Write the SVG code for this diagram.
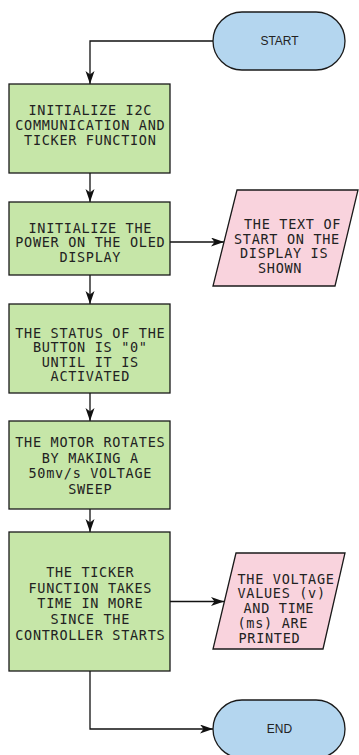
<svg xmlns="http://www.w3.org/2000/svg" width="359" height="755" viewBox="0 0 359 755">
<style>
.proc{fill:#c6e6a8;stroke:#1a1a1a;stroke-width:1.3}
.io{fill:#f9d3dd;stroke:#1a1a1a;stroke-width:1.3}
.term{fill:#b4d6ef;stroke:#1a1a1a;stroke-width:1.3}
.t{font-family:"DejaVu Sans Mono",monospace;font-size:13.5px;letter-spacing:0.7px;fill:#222}
.c{text-anchor:middle}
.s{font-family:"Liberation Sans",Arial,sans-serif;font-size:12px;fill:#222;text-anchor:middle}
.edge{fill:none;stroke:#111;stroke-width:1.3;marker-end:url(#arr)}
</style>
<defs>
<marker id="arr" markerUnits="userSpaceOnUse" markerWidth="14" markerHeight="10" refX="13" refY="4.5" orient="auto">
<path d="M0,0 L13,4.5 L0,9 L3.5,4.5 Z" fill="#111"/>
</marker>
</defs>
<rect width="359" height="755" fill="#ffffff"/>
<g id="connectors">
<path class="edge" d="M213,41 H90 V84"/>
<path class="edge" d="M90,173 V202"/>
<path class="edge" d="M170,242 H224"/>
<path class="edge" d="M90,275 V304"/>
<path class="edge" d="M90,393 V421"/>
<path class="edge" d="M90,509 V532"/>
<path class="edge" d="M170,601.5 H224"/>
<path class="edge" d="M90,671 V729 H213"/>
</g>
<g id="start">
<rect class="term" x="213" y="12" width="132" height="58" rx="29" ry="29"/>
<text class="s" x="279.5" y="45">START</text>
</g>
<g id="box1">
<rect class="proc" x="9" y="84" width="161" height="89"/>
<text class="t c" x="90.3" y="115">INITIALIZE I2C</text>
<text class="t c" x="90.3" y="130">COMMUNICATION AND</text>
<text class="t c" x="90.3" y="145">TICKER FUNCTION</text>
</g>
<g id="box2">
<rect class="proc" x="9" y="202" width="161" height="73"/>
<text class="t c" x="90.3" y="232.5">INITIALIZE THE</text>
<text class="t c" x="90.3" y="247">POWER ON THE OLED</text>
<text class="t c" x="90.3" y="261.5">DISPLAY</text>
</g>
<g id="io1">
<polygon class="io" points="237,190 358,190 335,286 213,286"/>
<text class="t" x="244" y="229">THE TEXT OF</text>
<text class="t" x="234" y="243.5">START ON THE</text>
<text class="t" x="240" y="258">DISPLAY IS</text>
<text class="t" x="258" y="273">SHOWN</text>
</g>
<g id="box3">
<rect class="proc" x="9" y="304" width="161" height="89"/>
<text class="t c" x="90.3" y="337.5">THE STATUS OF THE</text>
<text class="t c" x="90.3" y="352">BUTTON IS "0"</text>
<text class="t c" x="90.3" y="366.5">UNTIL IT IS</text>
<text class="t c" x="90.3" y="381">ACTIVATED</text>
</g>
<g id="box4">
<rect class="proc" x="9" y="421" width="161" height="88"/>
<text class="t c" x="90.3" y="447">THE MOTOR ROTATES</text>
<text class="t c" x="90.3" y="462.5">BY MAKING A</text>
<text class="t c" x="90.3" y="478">50mv/s VOLTAGE</text>
<text class="t c" x="90.3" y="494">SWEEP</text>
</g>
<g id="box5">
<rect class="proc" x="9" y="532" width="161" height="139"/>
<text class="t c" x="90.3" y="577">THE TICKER</text>
<text class="t c" x="90.3" y="592.5">FUNCTION TAKES</text>
<text class="t c" x="90.3" y="608">TIME IN MORE</text>
<text class="t c" x="90.3" y="624">SINCE THE</text>
<text class="t c" x="90.3" y="640">CONTROLLER STARTS</text>
</g>
<g id="io2">
<polygon class="io" points="236,553 345,553 323,649 213,649"/>
<text class="t" x="237.5" y="583.5">THE VOLTAGE</text>
<text class="t" x="237.5" y="598">VALUES (v)</text>
<text class="t" x="243.5" y="613">AND TIME</text>
<text class="t" x="237.5" y="628">(ms) ARE</text>
<text class="t" x="238.5" y="642.5">PRINTED</text>
</g>
<g id="end">
<rect class="term" x="213" y="700" width="132" height="58" rx="29" ry="29"/>
<text class="s" x="279.5" y="733">END</text>
</g>
</svg>
